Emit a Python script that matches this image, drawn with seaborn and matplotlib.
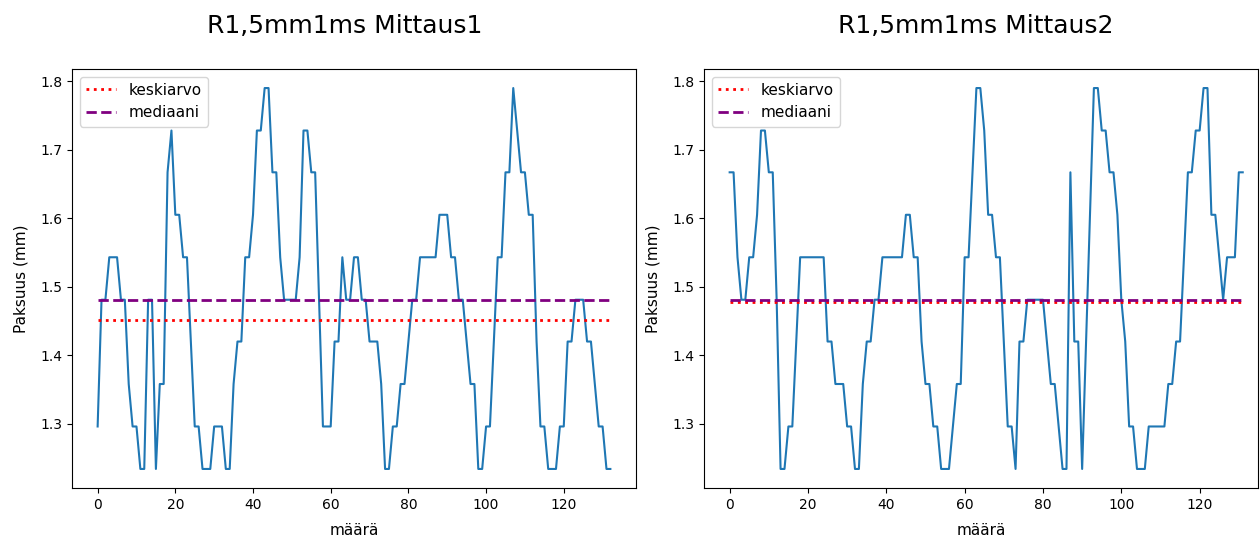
"""
plot.py
-------
Paksuusmittaus R1,5mm1ms: kaksi mittausta, keskiarvo ja mediaani.
"""
import numpy as np
import matplotlib
matplotlib.use("Agg")
import matplotlib.pyplot as plt
import seaborn as sns


# ─────────────────────────────────────────────
# Data (mm)
# ─────────────────────────────────────────────
TITLES = ["R1,5mm1ms Mittaus1", "R1,5mm1ms Mittaus2"]

mittaus1 = [
    1.296, 1.481, 1.481, 1.543, 1.543, 1.543, 1.481, 1.481, 1.358, 1.296,
    1.296, 1.234, 1.234, 1.481, 1.481, 1.234, 1.358, 1.358, 1.667, 1.728,
    1.605, 1.605, 1.543, 1.543, 1.420, 1.296, 1.296, 1.234, 1.234, 1.234,
    1.296, 1.296, 1.296, 1.234, 1.234, 1.358, 1.420, 1.420, 1.543, 1.543,
    1.605, 1.728, 1.728, 1.790, 1.790, 1.667, 1.667, 1.543, 1.481, 1.481,
    1.481, 1.481, 1.543, 1.728, 1.728, 1.667, 1.667, 1.481, 1.296, 1.296,
    1.296, 1.420, 1.420, 1.543, 1.481, 1.481, 1.543, 1.543, 1.481, 1.481,
    1.420, 1.420, 1.420, 1.358, 1.234, 1.234, 1.296, 1.296, 1.358, 1.358,
    1.420, 1.481, 1.481, 1.543, 1.543, 1.543, 1.543, 1.543, 1.605, 1.605,
    1.605, 1.543, 1.543, 1.481, 1.481, 1.420, 1.358, 1.358, 1.234, 1.234,
    1.296, 1.296, 1.420, 1.543, 1.543, 1.667, 1.667, 1.790, 1.728, 1.667,
    1.667, 1.605, 1.605, 1.420, 1.296, 1.296, 1.234, 1.234, 1.234, 1.296,
    1.296, 1.420, 1.420, 1.481, 1.481, 1.481, 1.420, 1.420, 1.358, 1.296,
    1.296, 1.234, 1.234,
]

mittaus2 = [
    1.667, 1.667, 1.543, 1.481, 1.481, 1.543, 1.543, 1.605, 1.728, 1.728,
    1.667, 1.667, 1.481, 1.234, 1.234, 1.296, 1.296, 1.420, 1.543, 1.543,
    1.543, 1.543, 1.543, 1.543, 1.543, 1.420, 1.420, 1.358, 1.358, 1.358,
    1.296, 1.296, 1.234, 1.234, 1.358, 1.420, 1.420, 1.481, 1.481, 1.543,
    1.543, 1.543, 1.543, 1.543, 1.543, 1.605, 1.605, 1.543, 1.543, 1.420,
    1.358, 1.358, 1.296, 1.296, 1.234, 1.234, 1.234, 1.296, 1.358, 1.358,
    1.543, 1.543, 1.667, 1.790, 1.790, 1.728, 1.605, 1.605, 1.543, 1.543,
    1.420, 1.296, 1.296, 1.234, 1.420, 1.420, 1.481, 1.481, 1.481, 1.481,
    1.481, 1.420, 1.358, 1.358, 1.296, 1.234, 1.234, 1.667, 1.420, 1.420,
    1.234, 1.420, 1.605, 1.790, 1.790, 1.728, 1.728, 1.667, 1.667, 1.605,
    1.481, 1.420, 1.296, 1.296, 1.234, 1.234, 1.234, 1.296, 1.296, 1.296,
    1.296, 1.296, 1.358, 1.358, 1.420, 1.420, 1.543, 1.667, 1.667, 1.728,
    1.728, 1.790, 1.790, 1.605, 1.605, 1.543, 1.481, 1.543, 1.543, 1.543,
    1.667, 1.667,
]

XTICKS = [0, 20, 40, 60, 80, 100, 120]
YTICKS = [1.3, 1.4, 1.5, 1.6, 1.7, 1.8]


# ─────────────────────────────────────────────
# Plot helper
# ─────────────────────────────────────────────
def draw_measurement(ax, values, title, title_x):
    values = np.asarray(values)
    x = np.arange(len(values))
    mean = values.mean()
    median = np.median(values)

    sns.lineplot(x=x, y=values, ax=ax, color="#1f77b4", linewidth=1.5)
    sns.lineplot(x=x, y=np.full(len(x), mean), ax=ax, color="red",
                 linestyle=":", linewidth=2, label="keskiarvo")
    sns.lineplot(x=x, y=np.full(len(x), median), ax=ax, color="purple",
                 linestyle="--", linewidth=2, label="mediaani")

    ax.set_title(title, fontsize=18, pad=26, x=title_x)
    ax.set_xlabel("määrä", fontsize=11, labelpad=8)
    ax.set_ylabel("Paksuus (mm)", fontsize=11, labelpad=8.5)
    ax.set_xticks(XTICKS)
    ax.set_yticks(YTICKS)
    ax.legend(loc="upper left", fontsize=11)


# ─────────────────────────────────────────────
# Figure
# ─────────────────────────────────────────────
fig = plt.figure(figsize=(12.6, 5.37), dpi=100)
ax1 = fig.add_axes([72 / 1260, 49 / 537, 564 / 1260, 419 / 537])
ax2 = fig.add_axes([704 / 1260, 49 / 537, 554 / 1260, 419 / 537])

draw_measurement(ax1, mittaus1, TITLES[0], 0.484)
draw_measurement(ax2, mittaus2, TITLES[1], 0.491)

# right panel is narrower in the original, keep the same x scale
ax2.set_xlim(-0.05 * (len(mittaus2) - 1), 134.9)

fig.savefig("out.png", dpi=100)
